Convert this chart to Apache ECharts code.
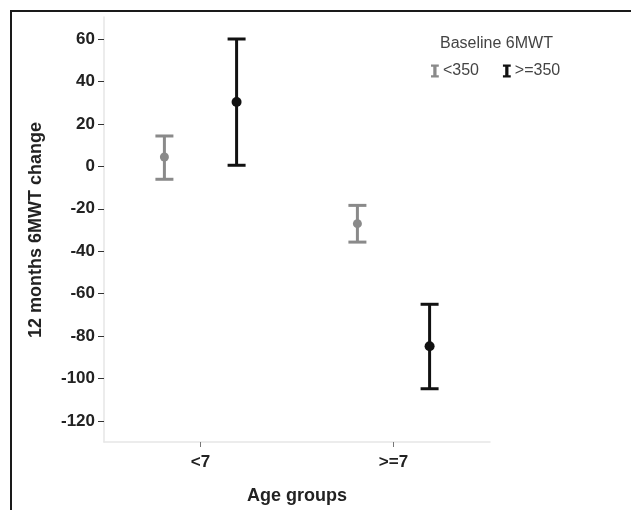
<!DOCTYPE html>
<html>
<head>
<meta charset="utf-8">
<script src="https://cdn.jsdelivr.net/npm/echarts@6/dist/echarts.min.js"></script>
<style>
html,body{margin:0;padding:0;background:#fff;}
#main{width:631px;height:510px;}
</style>
</head>
<body>
<div id="main"></div>
<script>
// ---- data ----
const categories = ['<7', '>=7'];
const yTicks = [-120, -100, -80, -60, -40, -20, 0, 20, 40, 60];
const lowName = '<350';
const lowMean = [4.4, -27.0];
const lowLower = [-6.1, -35.7];
const lowUpper = [14.3, -18.4];
const highName = '>=350';
const highMean = [30.3, -84.8];
const highLower = [0.5, -104.8];
const highUpper = [60.0, -65.0];

const FONT = '"Liberation Sans", Arial, sans-serif';
const GRAY = '#8a8a8a';
const BLACK = '#111111';
const IBEAM = 'path://M0,0H12V3.5H8.5V16.5H12V20H0V16.5H3.5V3.5H0Z';

function rows(mean, lo, hi) {
  return categories.map((c, i) => [i, mean[i], lo[i], hi[i]]);
}

function makeRender(color, side, radius) {
  return function (params, api) {
    const ci = api.value(0);
    const pm = api.coord([ci, api.value(1)]);
    const pl = api.coord([ci, api.value(2)]);
    const ph = api.coord([ci, api.value(3)]);
    const band = api.size([1, 0])[0];
    const x = pm[0] + side * band * 0.187;
    const hw = 9;
    const st = { stroke: color, lineWidth: 3 };
    return {
      type: 'group',
      children: [
        { type: 'line', shape: { x1: x, y1: ph[1], x2: x, y2: pl[1] }, style: st },
        { type: 'line', shape: { x1: x - hw, y1: ph[1], x2: x + hw, y2: ph[1] }, style: st },
        { type: 'line', shape: { x1: x - hw, y1: pl[1], x2: x + hw, y2: pl[1] }, style: st },
        { type: 'circle', shape: { cx: x, cy: pm[1], r: radius }, style: { fill: color } }
      ]
    };
  };
}

const chart = echarts.init(document.getElementById('main'), null, { renderer: 'canvas' });
chart.setOption({
  animation: false,
  backgroundColor: '#ffffff',
  textStyle: { fontFamily: FONT },
  graphic: [
    { type: 'rect', shape: { x: 11, y: 11, width: 700, height: 600 },
      style: { fill: null, stroke: '#1a1a1a', lineWidth: 2 }, z: 100 }
  ],
  title: {
    text: 'Baseline 6MWT',
    left: 435, top: 31,
    textStyle: { fontFamily: FONT, fontSize: 16, fontWeight: 'normal', color: '#444' }
  },
  legend: {
    left: 426, top: 58,
    itemWidth: 8, itemHeight: 13, itemGap: 24,
    textStyle: { fontFamily: FONT, fontSize: 16, color: '#444', padding: [0, 0, 0, -1] },
    data: [
      { name: lowName, icon: IBEAM, itemStyle: { color: GRAY } },
      { name: highName, icon: IBEAM, itemStyle: { color: BLACK } }
    ]
  },
  grid: [
    { left: 104, right: 141, top: 39, bottom: 89 },
    { left: 104, right: 141, top: 17, bottom: 68 }
  ],
  xAxis: [
    {
      gridIndex: 0, type: 'category', data: categories, boundaryGap: true,
      offset: 21,
      axisLine: { show: false, onZero: false },
      axisTick: { show: true, alignWithLabel: true, length: 5, lineStyle: { color: '#777', width: 1 } },
      axisLabel: { margin: 12, fontSize: 17, fontWeight: 'bold', color: '#222', fontFamily: FONT },
      name: 'Age groups', nameLocation: 'middle', nameGap: 45,
      nameTextStyle: { fontSize: 18, fontWeight: 'bold', color: '#222', fontFamily: FONT },
      splitLine: { show: false }
    },
    {
      gridIndex: 1, type: 'value', min: 0, max: 1,
      axisLine: { show: true, onZero: false, lineStyle: { color: '#e6e6e6', width: 1.5 } },
      axisTick: { show: false }, axisLabel: { show: false }, splitLine: { show: false }
    }
  ],
  yAxis: [
    {
      gridIndex: 0, type: 'value',
      min: yTicks[0], max: yTicks[yTicks.length - 1], interval: yTicks[1] - yTicks[0],
      axisLine: { show: false, onZero: false },
      axisTick: { show: true, length: 6, lineStyle: { color: '#333', width: 1 } },
      axisLabel: { margin: 9, fontSize: 17, fontWeight: 'bold', color: '#222', fontFamily: FONT },
      splitLine: { show: false },
      name: '12 months 6MWT change', nameLocation: 'middle', nameGap: 59,
      nameTextStyle: { fontSize: 18, fontWeight: 'bold', color: '#222', fontFamily: FONT }
    },
    {
      gridIndex: 1, type: 'value', min: 0, max: 1,
      axisLine: { show: true, onZero: false, lineStyle: { color: '#e6e6e6', width: 1.5 } },
      axisTick: { show: false }, axisLabel: { show: false }, splitLine: { show: false }
    }
  ],
  series: [
    {
      name: lowName, type: 'custom', xAxisIndex: 0, yAxisIndex: 0,
      itemStyle: { color: GRAY },
      renderItem: makeRender(GRAY, -1, 4.5),
      encode: { x: 0, y: [1, 2, 3] },
      data: rows(lowMean, lowLower, lowUpper), z: 10
    },
    {
      name: highName, type: 'custom', xAxisIndex: 0, yAxisIndex: 0,
      itemStyle: { color: BLACK },
      renderItem: makeRender(BLACK, 1, 5),
      encode: { x: 0, y: [1, 2, 3] },
      data: rows(highMean, highLower, highUpper), z: 10
    }
  ]
});
</script>
</body>
</html>
